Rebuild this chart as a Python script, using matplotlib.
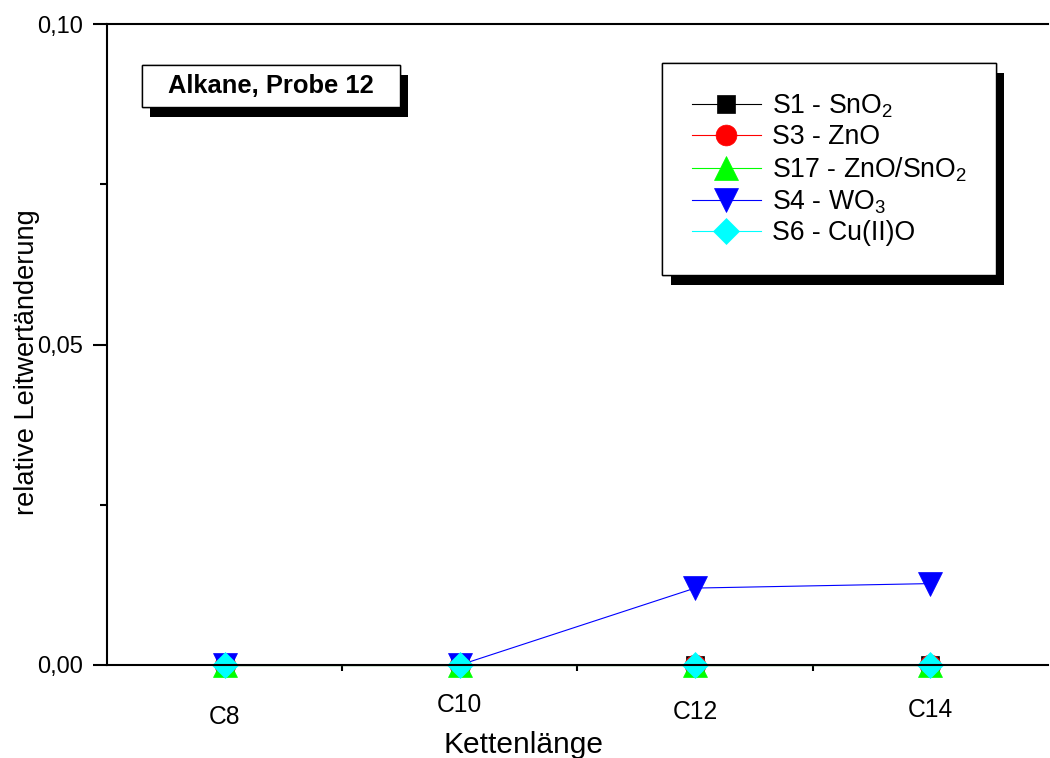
import matplotlib
matplotlib.use("Agg")
import matplotlib.pyplot as plt
import matplotlib.patheffects as pe
from matplotlib.patches import Rectangle
from matplotlib.ticker import FuncFormatter, MultipleLocator

plt.rcParams["font.family"] = ["Liberation Sans", "DejaVu Sans"]
plt.rcParams["mathtext.default"] = "regular"

categories = ["C8", "C10", "C12", "C14"]
s1_sno2 = [0.0, 0.0, 0.0, 0.0]
s3_zno = [0.0, 0.0, 0.0, 0.0]
s17_zno_sno2 = [0.0, 0.0, 0.0, 0.0]
s4_wo3 = [0.0, 0.0, 0.0120, 0.0127]
s6_cuo = [0.0, 0.0, 0.0, 0.0]

series = [
    ("S1 - SnO$_2$", s1_sno2, "black", "s", 13),
    ("S3 - ZnO", s3_zno, "#ff0000", "o", 15),
    ("S17 - ZnO/SnO$_2$", s17_zno_sno2, "#00ff00", "^", 17),
    ("S4 - WO$_3$", s4_wo3, "#0000ff", "v", 17),
    ("S6 - Cu(II)O", s6_cuo, "#00ffff", "D", 13),
]

x = list(range(1, len(categories) + 1))

fig = plt.figure(figsize=(10.5, 7.58), dpi=100)
ax = fig.add_axes([0.1019, 0.1227, 0.8962, 0.8456])

for label, vals, col, mk, ms in series:
    ax.plot(x, vals, color=col, lw=0.8, marker=mk, ms=ms, mfc=col, mec=col,
            mew=0.5, label=label, clip_on=False, zorder=3)

ax.set_xlim(0.5, 4.5)
ax.set_ylim(0, 0.10)
ax.set_xticks(x)
ax.set_xticklabels([])
ax.set_xticks([1.5, 2.5, 3.5], minor=True)
ax.yaxis.set_major_locator(MultipleLocator(0.05))
ax.yaxis.set_minor_locator(MultipleLocator(0.025))
ax.yaxis.set_major_formatter(FuncFormatter(lambda v, p: f"{v:.2f}".replace(".", ",")))

for side in ["left", "bottom", "top"]:
    ax.spines[side].set_linewidth(1.5)
    ax.spines[side].set_zorder(4)
ax.spines["right"].set_visible(False)

ax.tick_params(axis="y", which="major", direction="out", length=10, width=1.5,
               labelsize=17, pad=7)
ax.tick_params(axis="y", which="minor", direction="out", length=5, width=1.5)
ax.tick_params(axis="x", which="major", direction="out", length=9, width=1.5)
ax.tick_params(axis="x", which="minor", direction="out", length=4, width=1.5)

# staggered category labels
label_offsets = [37.5, 29, 34, 32.5]
for xi, lab, off in zip(x, categories, label_offsets):
    ax.annotate(lab, xy=(xi, 0), xycoords=("data", "axes fraction"),
                xytext=(0, -off), textcoords="offset points",
                ha="center", va="center", fontsize=17.7)

fig.text(523 / 1050, 1 - 745 / 758, "Kettenlänge", fontsize=21.5,
         ha="center", va="center")
fig.text(27 / 1050, 1 - 362 / 758, "relative Leitwertänderung", fontsize=19.6,
         ha="center", va="center", rotation=90)

shadow = [pe.withSimplePatchShadow(offset=(6, -7), shadow_rgbFace="black", alpha=1.0),
          pe.Normal()]

box = Rectangle((0.0372, 0.8705), 0.2742, 0.0655, transform=ax.transAxes,
                facecolor="white", edgecolor="black", lw=1.0, zorder=5)
box.set_path_effects(shadow)
ax.add_patch(box)
ax.text(0.0372 + 0.2742 / 2, 0.8705 + 0.0655 / 2, "Alkane, Probe 12",
        transform=ax.transAxes, ha="center", va="center",
        fontsize=18.4, fontweight="bold", zorder=6)

leg = ax.legend(loc="upper right", bbox_to_anchor=(0.9447, 0.939),
                borderaxespad=0, fontsize=19.2, handlelength=2.6,
                handletextpad=0.4, labelspacing=0.17, borderpad=1.1,
                fancybox=False, framealpha=1, edgecolor="black")
leg.get_frame().set_linewidth(1.0)
leg.get_frame().set_path_effects(shadow)
leg.set_zorder(6)

fig.savefig("out.png", dpi=100)
